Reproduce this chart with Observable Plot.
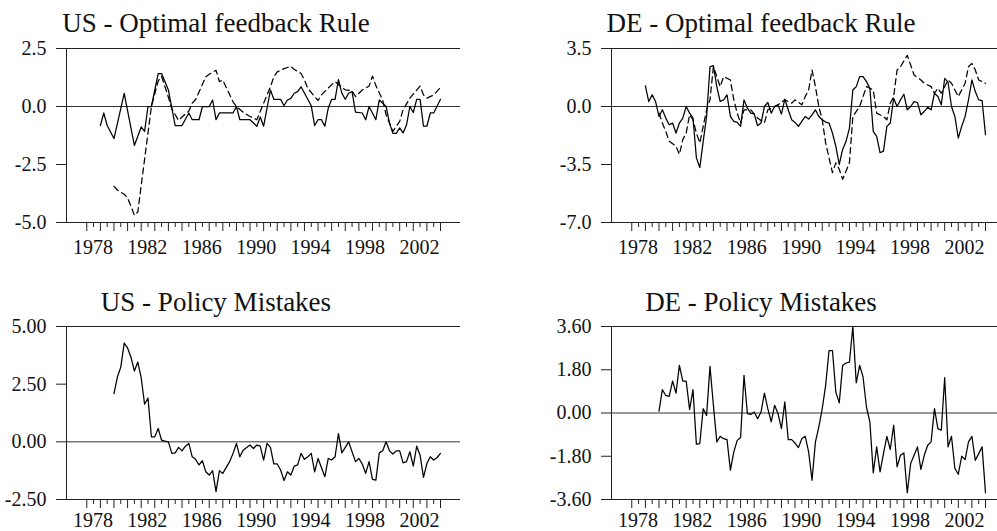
<!DOCTYPE html>
<html><head><meta charset="utf-8">
<script src="https://cdn.jsdelivr.net/npm/d3@7"></script>
<script src="https://cdn.jsdelivr.net/npm/@observablehq/plot@0.6"></script>
<style>
html,body{margin:0;padding:0;background:#fff;overflow:hidden;width:997px;height:531px}
#wrap{position:relative;width:997px;height:531px;overflow:hidden;font-family:"Liberation Serif","Tinos","Times New Roman","DejaVu Serif",serif;background:#fff}
.panel{position:absolute}
.title{position:absolute;width:400px;text-align:center;font-size:27px;line-height:27px;color:#111;white-space:nowrap;font-family:"Liberation Serif","Tinos","Times New Roman","DejaVu Serif",serif}
</style></head><body><div id="wrap"></div>
<script>
// ---------- data (quarterly, decimal years) ----------
const yearLabels = ["1978","1982","1986","1990","1994","1998","2002"];

const usRuleDates = [1979.0,1979.25,1979.5,1980.0,1980.75,1981.5,1982.0,1982.25,1982.5,1982.75,1983.25,1983.5,1984.0,1984.5,1985.0,1985.5,1985.75,1986.25,1986.5,1987.0,1987.25,1987.5,1987.75,1988.75,1989.0,1989.25,1990.0,1990.5,1990.75,1991.0,1991.5,1991.75,1992.25,1992.5,1992.75,1993.0,1993.25,1993.5,1993.75,1994.5,1994.75,1995.0,1995.25,1995.5,1995.75,1996.0,1996.25,1996.5,1996.75,1997.0,1997.25,1997.5,1997.75,1998.25,1998.5,1998.75,1999.25,1999.5,2000.0,2000.25,2000.5,2000.75,2001.0,2001.25,2001.5,2001.75,2002.0,2002.25,2002.5,2002.75,2003.0,2003.25,2003.5,2004.0];
const usRuleVals  = [-0.82,-0.28,-0.82,-1.38,0.57,-1.68,-0.88,-1.07,0.0,0.0,1.42,1.42,0.71,-0.82,-0.82,-0.28,-0.57,-0.57,0.0,0.0,0.28,-0.57,-0.28,-0.28,0.0,-0.57,-0.57,-0.85,-0.45,-0.85,0.71,0.31,0.31,0.03,0.28,0.35,0.57,0.64,0.85,0.03,-0.82,-0.57,-0.57,-0.85,-0.07,0.31,0.31,1.16,0.57,0.31,0.57,0.64,-0.24,-0.28,-0.57,0.0,-0.57,0.28,0.0,-0.71,-1.16,-1.16,-0.92,-1.14,-0.8,0.0,-0.26,0.31,0.31,-0.85,-0.85,-0.28,-0.28,0.31];

const usAltDates = [1980.0,1980.25,1980.5,1980.75,1981.0,1981.25,1981.5,1981.75,1982.75,1983.25,1983.5,1984.0,1984.25,1984.75,1985.0,1985.5,1985.75,1986.0,1986.75,1987.0,1987.5,1987.75,1988.0,1988.75,1989.0,1989.5,1990.0,1990.5,1990.75,1991.25,1991.5,1991.75,1992.0,1992.5,1993.0,1993.25,1993.75,1994.0,1994.25,1994.75,1995.0,1995.25,1995.75,1996.25,1996.5,1996.75,1997.0,1997.5,1997.75,1998.25,1998.75,1999.0,1999.25,1999.75,2000.0,2000.5,2001.0,2001.25,2001.75,2002.25,2002.5,2002.75,2003.0,2003.5,2004.0];
const usAltVals  = [-3.44,-3.6,-3.7,-3.78,-3.95,-4.3,-4.69,-4.55,0.0,1.1,1.3,0.4,-0.1,-0.6,-0.45,-0.2,0.14,0.3,1.28,1.39,1.56,1.07,1.14,0.2,0.0,-0.25,-0.43,-0.57,-0.21,0.5,0.85,1.28,1.49,1.63,1.73,1.6,1.42,1.14,0.78,0.43,0.26,0.5,0.8,1.07,0.95,0.82,0.72,0.68,0.43,0.71,0.88,1.31,0.9,0.28,-0.36,-1.07,-0.64,-0.14,0.36,0.71,0.88,0.5,0.36,0.5,0.82];

const deRuleDates = [1979.0,1979.25,1979.5,1979.75,1980.0,1980.25,1980.5,1980.75,1981.0,1981.25,1981.5,1981.75,1982.0,1982.25,1982.5,1982.75,1983.0,1983.25,1983.5,1983.75,1984.0,1984.25,1984.5,1984.75,1985.0,1985.25,1985.5,1985.75,1986.0,1986.25,1986.5,1986.75,1987.0,1987.25,1987.5,1987.75,1988.0,1988.25,1988.5,1988.75,1989.0,1989.25,1989.5,1989.75,1990.0,1990.25,1990.5,1990.75,1991.0,1991.25,1991.5,1991.75,1992.0,1992.25,1992.5,1992.75,1993.0,1993.25,1993.5,1993.75,1994.0,1994.25,1994.5,1994.75,1995.0,1995.25,1995.5,1995.75,1996.0,1996.25,1996.5,1996.75,1997.0,1997.25,1997.5,1997.75,1998.0,1998.25,1998.5,1998.75,1999.0,1999.25,1999.5,1999.75,2000.0,2000.25,2000.5,2000.75,2001.0,2001.25,2001.5,2001.75,2002.0,2002.25,2002.5,2002.75,2003.0,2003.25,2003.5,2003.75,2004.0];
const deRuleVals  = [1.24,0.30,0.70,0.30,-0.60,-0.20,-0.70,-1.10,-1.0,-1.60,-1.0,-0.70,0.0,-0.40,-0.70,-3.09,-3.69,-2.10,-0.60,2.40,2.47,1.20,0.30,0.40,0.70,-0.60,-0.90,-0.96,-1.2,0.4,-0.1,-0.4,-0.45,-1.16,-1.0,0.0,0.24,-0.4,0.0,0.1,-0.46,0.44,-0.2,-0.8,-0.96,-1.2,-0.9,-0.6,-0.76,-0.5,-0.2,-0.6,-0.8,-0.94,-1.0,-1.6,-2.4,-3.5,-2.59,-2.1,-1.3,1.0,1.2,1.8,1.8,1.5,1.1,-1.5,-1.8,-2.79,-2.69,-1.2,-1.0,0.5,0.0,0.4,0.74,-0.2,0.0,0.3,0.24,-0.5,-0.3,-0.05,-0.2,0.8,0.6,0.1,1.7,1.45,0.0,-0.6,-1.9,-1.2,-0.6,0.4,1.6,0.9,0.4,0.35,-1.7];

const deAltDates = [1980.0,1980.25,1980.5,1980.75,1981.25,1981.5,1981.75,1982.0,1982.25,1982.5,1982.75,1983.0,1983.25,1983.5,1983.75,1984.0,1984.25,1984.5,1984.75,1985.25,1985.5,1985.75,1986.0,1986.25,1986.75,1987.25,1987.75,1988.0,1988.5,1988.75,1989.25,1989.5,1989.75,1990.0,1990.5,1990.75,1991.0,1991.25,1991.5,1991.75,1992.0,1992.25,1992.75,1993.0,1993.25,1993.5,1994.0,1994.25,1994.75,1995.25,1995.5,1995.75,1996.0,1996.5,1996.75,1997.0,1997.25,1997.5,1997.75,1998.25,1998.5,1998.75,1999.25,1999.5,2000.0,2000.25,2000.5,2000.75,2001.25,2001.5,2001.75,2002.0,2002.5,2002.75,2003.0,2003.25,2003.5,2004.0];
const deAltVals  = [-0.4,-1.0,-1.5,-2.1,-2.4,-2.89,-2.0,-1.6,-0.5,-0.8,-1.6,-2.2,-1.2,-0.2,0.4,2.4,1.8,1.2,1.8,1.6,0.4,-0.4,-1.0,-0.2,-0.2,-0.7,-1.0,-0.2,0.0,0.1,0.4,0.3,0.2,0.4,0.1,0.6,1.0,2.2,1.2,0.0,-0.8,-2.2,-3.99,-3.4,-3.79,-4.39,-3.39,-0.6,0.0,1.2,1.1,1.0,-0.4,-0.6,-0.8,0.2,0.6,2.2,2.4,3.09,2.5,1.9,1.6,1.4,1.2,0.8,1.1,0.8,1.6,1.4,1.0,0.6,1.4,2.4,2.6,2.2,1.6,1.4];

const usMistDates = [1980.0,1980.25,1980.5,1980.75,1981.0,1981.25,1981.5,1981.75,1982.0,1982.25,1982.5,1982.75,1983.0,1983.25,1983.5,1983.75,1984.0,1984.25,1984.5,1984.75,1985.0,1985.25,1985.5,1985.75,1986.0,1986.25,1986.5,1986.75,1987.0,1987.25,1987.5,1987.75,1988.0,1988.5,1988.75,1989.0,1989.25,1989.5,1989.75,1990.0,1990.25,1990.5,1990.75,1991.0,1991.25,1991.5,1991.75,1992.0,1992.25,1992.5,1992.75,1993.0,1993.25,1993.5,1993.75,1994.0,1994.25,1994.5,1994.75,1995.0,1995.5,1995.75,1996.0,1996.25,1996.5,1996.75,1997.0,1997.25,1997.5,1997.75,1998.0,1998.25,1998.5,1998.75,1999.0,1999.25,1999.5,1999.75,2000.0,2000.25,2000.5,2000.75,2001.0,2001.25,2001.5,2001.75,2002.0,2002.25,2002.5,2002.75,2003.0,2003.25,2003.5,2003.75,2004.0];
const usMistVals  = [2.09,2.81,3.24,4.28,4.07,3.67,3.07,3.46,2.78,1.63,1.9,0.22,0.22,0.58,0.07,0.03,0.0,-0.5,-0.48,-0.24,-0.39,-0.19,-0.07,-0.65,-0.76,-1.0,-0.82,-1.3,-1.44,-1.25,-2.16,-1.25,-1.37,-0.86,-0.5,-0.07,-0.65,-0.36,-0.25,-0.14,-0.29,-0.14,-0.19,-0.79,-0.07,-0.24,-0.96,-0.96,-1.22,-1.68,-1.3,-1.44,-1.05,-1.0,-0.5,-0.76,-0.65,-0.5,-1.3,-0.72,-1.51,-0.72,-0.79,-0.65,0.36,-0.48,-0.24,0.0,-0.43,-0.86,-0.72,-0.96,-1.37,-0.86,-1.63,-1.66,-0.48,-0.39,0.0,-0.39,-0.53,-0.39,-0.39,-0.91,-0.86,-0.43,-1.05,-0.19,-0.58,-1.54,-0.94,-0.65,-0.79,-0.68,-0.5];

const deMistDates = [1980.0,1980.25,1980.5,1980.75,1981.0,1981.25,1981.5,1981.75,1982.0,1982.25,1982.5,1982.75,1983.0,1983.25,1983.5,1983.75,1984.0,1984.25,1984.5,1984.75,1985.0,1985.25,1985.5,1985.75,1986.0,1986.25,1986.5,1986.75,1987.0,1987.25,1987.5,1987.75,1988.0,1988.25,1988.5,1988.75,1989.0,1989.25,1989.5,1989.75,1990.0,1990.25,1990.5,1990.75,1991.0,1991.25,1991.5,1991.75,1992.0,1992.25,1992.5,1992.75,1993.0,1993.25,1993.5,1993.75,1994.0,1994.25,1994.5,1994.75,1995.0,1995.25,1995.5,1995.75,1996.0,1996.25,1996.5,1996.75,1997.0,1997.25,1997.5,1997.75,1998.0,1998.25,1998.5,1998.75,1999.0,1999.25,1999.5,1999.75,2000.0,2000.25,2000.5,2000.75,2001.0,2001.25,2001.5,2001.75,2002.0,2002.25,2002.5,2002.75,2003.0,2003.25,2003.5,2003.75,2004.0];
const deMistVals  = [0.08,0.97,0.73,0.69,1.33,0.83,1.98,1.33,1.33,0.14,0.97,-1.30,-1.27,0.18,-0.10,1.94,0.32,-1.2,-0.97,-1.07,-1.11,-2.38,-1.62,-1.14,-1.02,1.57,-0.03,-0.06,0.04,-0.24,0.04,0.83,0.18,-0.37,0.32,-0.03,-0.65,0.46,-1.11,-1.11,-1.25,-1.44,-1.07,-0.97,-1.62,-2.8,-1.2,-0.58,0.18,1.15,2.6,2.6,0.87,0.42,1.98,2.08,2.12,3.6,1.25,1.98,1.5,0.25,-0.37,-2.49,-1.41,-2.45,-1.69,-0.97,-1.52,-0.51,-2.24,-1.76,-1.66,-3.32,-2.1,-1.76,-1.41,-2.35,-1.76,-1.34,-1.2,0.18,-0.65,-0.72,1.47,-1.41,-0.97,-2.31,-2.55,-1.8,-1.94,-1.2,-0.97,-1.97,-1.69,-1.41,-3.32];

// ---------- drawing ----------
const FONT = "'Liberation Serif', 'Tinos', 'Times New Roman', 'DejaVu Serif', serif";
const wrap = document.getElementById("wrap");
const X_DOMAIN = [1976.51, 2005.47];
const majorTicks = d3.range(1978, 2004.001, 1);
const minorTicks = d3.range(1978.5, 2004, 1);
const labelTicks = yearLabels.map(s => +s + 0.45);

function addPanel(cfg) {
  const {left, top, height, marginTop, marginBottom, yDomain, yTicks, digits, series, title, titleTop, labelPad} = cfg;
  const marks = [
    Plot.ruleY([yDomain[0], yDomain[1]], {stroke: "#222", strokeWidth: 1}),
    Plot.ruleY([0], {stroke: "#333", strokeWidth: 1}),
    Plot.ruleX([X_DOMAIN[0]], {stroke: "#222", strokeWidth: 1}),
    Plot.axisY({ticks: yTicks, tickSize: 10, tickPadding: 10, tickFormat: d => d.toFixed(digits), label: null, stroke: "#222"}),
    Plot.axisX({ticks: majorTicks, tickSize: 9, tickFormat: () => "", label: null, stroke: "#222"}),
    Plot.axisX({ticks: minorTicks, tickSize: 5, tickFormat: () => "", label: null, stroke: "#222"}),
    Plot.axisX({ticks: labelTicks, tickSize: 0, tickPadding: labelPad, tickFormat: d => String(Math.floor(d)), label: null})
  ];
  for (const s of series) {
    marks.push(Plot.line(s.dates, {x: s.dates, y: s.vals, stroke: "#000", strokeWidth: 1.25,
      strokeDasharray: s.dashed ? "6,4" : null}));
  }
  const svg = Plot.plot({
    width: 470, height, marginLeft: 66, marginRight: 10, marginTop, marginBottom,
    x: {domain: X_DOMAIN},
    y: {domain: yDomain},
    style: {fontSize: "20px", fontFamily: FONT, color: "#111", background: "transparent", overflow: "visible"},
    marks
  });
  svg.classList.add("panel");
  svg.style.left = left + "px";
  svg.style.top = top + "px";
  wrap.appendChild(svg);
  const t = document.createElement("div");
  t.className = "title";
  t.textContent = title;
  t.style.left = (left + 16) + "px";
  t.style.top = titleTop + "px";
  wrap.appendChild(t);
}

addPanel({left: 0, top: 0, height: 260, marginTop: 48, marginBottom: 38,
  yDomain: [-5, 2.5], yTicks: [-5, -2.5, 0, 2.5], digits: 1, labelPad: 17,
  series: [{dates: usRuleDates, vals: usRuleVals}, {dates: usAltDates, vals: usAltVals, dashed: true}],
  title: "US - Optimal feedback Rule", titleTop: 10});
addPanel({left: 545, top: 0, height: 260, marginTop: 48, marginBottom: 38,
  yDomain: [-7, 3.5], yTicks: [-7, -3.5, 0, 3.5], digits: 1, labelPad: 17,
  series: [{dates: deRuleDates, vals: deRuleVals}, {dates: deAltDates, vals: deAltVals, dashed: true}],
  title: "DE - Optimal feedback Rule", titleTop: 10});
addPanel({left: 0, top: 266, height: 265, marginTop: 60, marginBottom: 32,
  yDomain: [-2.5, 5], yTicks: [-2.5, 0, 2.5, 5], digits: 2, labelPad: 13,
  series: [{dates: usMistDates, vals: usMistVals}],
  title: "US - Policy Mistakes", titleTop: 289});
addPanel({left: 545, top: 266, height: 265, marginTop: 60, marginBottom: 32,
  yDomain: [-3.6, 3.6], yTicks: [-3.6, -1.8, 0, 1.8, 3.6], digits: 2, labelPad: 13,
  series: [{dates: deMistDates, vals: deMistVals}],
  title: "DE - Policy Mistakes", titleTop: 289});
</script></body></html>
